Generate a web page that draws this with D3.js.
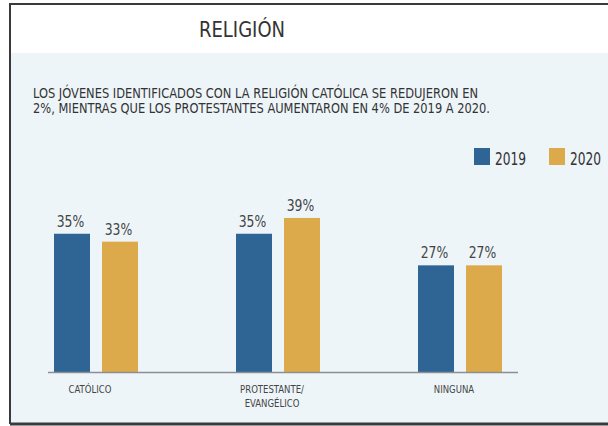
<!DOCTYPE html>
<html>
<head>
<meta charset="utf-8">
<script src="https://cdn.jsdelivr.net/npm/d3@7"></script>
<style>
  body { margin: 0; background: #fff; }
  text { font-family: "Liberation Sans Narrow", "DejaVu Sans Condensed", "Noto Sans", sans-serif; }
</style>
</head>
<body>
<svg id="chart" width="608" height="426"></svg>
<script>
// data
let categories = ["CATÓLICO", "PROTESTANTE/\nEVANGÉLICO", "NINGUNA"]
let years = ["2019", "2020"]
let values2019 = [35, 35, 27]
let values2020 = [33, 39, 27]
let yearColors = ["#2f6594", "#dcaa4b"]
let titleText = "RELIGIÓN"
let subtitleLines = [
  "LOS JÓVENES IDENTIFICADOS CON LA RELIGIÓN CATÓLICA SE REDUJERON EN",
  "2%, MIENTRAS QUE LOS PROTESTANTES AUMENTARON EN 4% DE 2019 A 2020."
]

let svg = d3.select("#chart")

// squeeze a text horizontally so it looks like the narrow font of the original
function squeeze(sel, k){
  sel.each(function(){
    let w = this.getComputedTextLength()
    d3.select(this).attr("textLength", w * k).attr("lengthAdjust", "spacingAndGlyphs")
  })
}

/* background + frame */
svg.append("rect").attr("x", 10).attr("y", 4).attr("width", 598).attr("height", 420).attr("fill", "#eef5f9")
svg.append("rect").attr("x", 10).attr("y", 4).attr("width", 598).attr("height", 49).attr("fill", "#ffffff")
svg.append("path")
   .attr("d", "M10,424 V4 H608")
   .attr("fill", "none").attr("stroke", "#3a3a3a").attr("stroke-width", 2)
svg.append("line").attr("x1", 10).attr("x2", 608).attr("y1", 424).attr("y2", 424)
   .attr("stroke", "#3a3a3a").attr("stroke-width", 3)

/* title & subtitle */
svg.append("text")
   .attr("x", 242).attr("y", 37)
   .attr("text-anchor", "middle")
   .attr("font-size", 22)
   .attr("fill", "#333")
   .attr("textLength", 86)
   .attr("lengthAdjust", "spacingAndGlyphs")
   .text(titleText)

svg.selectAll(".sub")
   .data(subtitleLines)
   .enter()
   .append("text")
   .attr("class", "sub")
   .attr("x", 33)
   .attr("y", function(d, i){ return 98 + i * 15 })
   .attr("font-size", 13.5)
   .attr("fill", "#333")
   .attr("textLength", function(d, i){ return i == 0 ? 445 : 457 })
   .attr("lengthAdjust", "spacingAndGlyphs")
   .text(function(d){ return d })

/* scales */
let baseY = 372
let x = d3.scaleBand()
          .domain(categories)
          .range([5, 551])
let xIn = d3.scaleBand()
            .domain(years)
            .range([-42, 42])
            .paddingInner(0.25)
let y = d3.scaleLinear()
          .domain([0, 40])
          .range([baseY, baseY - 158])

function center(c){ return x(c) + x.bandwidth() / 2 }

let rows = categories.map(function(c, i){
  return { cat: c, vals: [values2019[i], values2020[i]] }
})

let groups = svg.selectAll(".grp")
                .data(rows)
                .enter()
                .append("g")
                .attr("class", "grp")
                .attr("transform", function(d){ return `translate(${center(d.cat)},0)` })

let bars = groups.selectAll(".bar")
                 .data(function(d){ return years.map(function(yr, j){ return { year: yr, v: d.vals[j], j: j } }) })
                 .enter()

bars.append("rect")
    .attr("class", "bar")
    .attr("x", function(d){ return xIn(d.year) })
    .attr("y", function(d){ return y(d.v) })
    .attr("width", xIn.bandwidth())
    .attr("height", function(d){ return baseY - y(d.v) })
    .attr("fill", function(d){ return yearColors[d.j] })

let valueLabels = bars.append("text")
    .attr("x", function(d){ return xIn(d.year) + xIn.bandwidth() / 2 - 1.5 })
    .attr("y", function(d){ return y(d.v) - 7 })
    .attr("text-anchor", "middle")
    .attr("font-size", 16)
    .attr("fill", "#444")
    .text(function(d){ return d.v + "%" })
squeeze(valueLabels, 0.86)

/* baseline */
svg.append("line")
   .attr("x1", center(categories[0]) - 48)
   .attr("x2", center(categories[categories.length - 1]) + 58)
   .attr("y1", baseY + 0.5).attr("y2", baseY + 0.5)
   .attr("stroke", "#8a8f94").attr("stroke-width", 1.5)

/* category labels */
let catLabels = groups.append("g")
      .selectAll("text")
      .data(function(d){ return d.cat.split("\n") })
      .enter()
      .append("text")
      .attr("text-anchor", "middle")
      .attr("font-size", 11)
      .attr("fill", "#444")
      .attr("x", -6)
      .attr("y", function(d, i){ return 393 + i * 14 })
      .text(function(d){ return d })
squeeze(catLabels, 0.86)

/* legend */
let legend = svg.selectAll(".leg")
                .data(years)
                .enter()
                .append("g")
                .attr("class", "leg")
                .attr("transform", function(d, i){ return `translate(${474 + i * 75},148)` })
legend.append("rect")
      .attr("width", 16).attr("height", 17)
      .attr("fill", function(d, i){ return yearColors[i] })
legend.append("text")
      .attr("x", 21).attr("y", 17)
      .attr("font-size", 17)
      .attr("fill", "#333")
      .attr("textLength", 31)
      .attr("lengthAdjust", "spacingAndGlyphs")
      .text(function(d){ return d })
</script>
</body>
</html>
